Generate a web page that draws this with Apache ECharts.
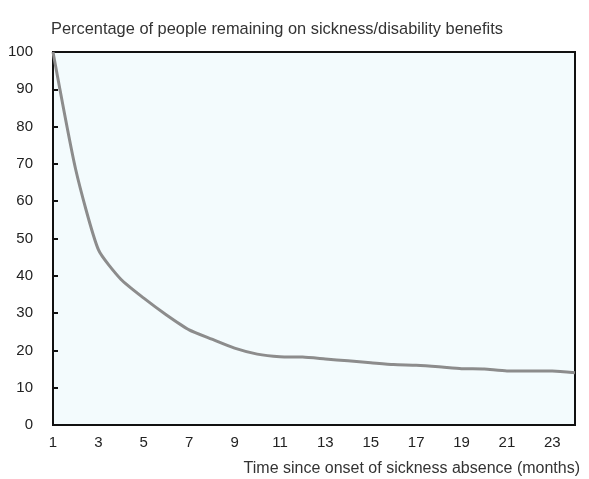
<!DOCTYPE html>
<html>
<head>
<meta charset="utf-8">
<script src="https://cdn.jsdelivr.net/npm/echarts@6/dist/echarts.min.js"></script>
<style>
    html, body { margin: 0; padding: 0; background: #fff; }
    #chart { width: 589px; height: 479px; }
</style>
</head>
<body>
<div id="chart"></div>
<script>
// 月份（1-24）
const months = ['1','2','3','4','5','6','7','8','9','10','11','12','13','14','15','16','17','18','19','20','21','22','23','24'];
// 仍在领取疾病/残疾福利的比例
const remaining = [100, 68.5, 47, 39, 34, 29.5, 25.5, 23, 20.6, 19, 18.3, 18.2, 17.7, 17.2, 16.7, 16.2, 16, 15.6, 15.1, 15, 14.5, 14.5, 14.5, 14];
const yTicks = [0, 10, 20, 30, 40, 50, 60, 70, 80, 90, 100];

const chart = echarts.init(document.getElementById('chart'));
const option = {
    backgroundColor: '#fff',
    title: [
        {
            text: 'Percentage of people remaining on sickness/disability benefits',
            left: 46,
            top: 16,
            textStyle: { fontFamily: 'Liberation Sans', fontSize: 16.4, fontWeight: 'normal', color: '#333' }
        },
        {
            text: 'Time since onset of sickness absence (months)',
            right: 4,
            top: 456,
            textStyle: { fontFamily: 'Liberation Sans', fontSize: 16, fontWeight: 'normal', color: '#333' }
        }
    ],
    grid: {
        left: 53, right: 14, top: 52, bottom: 54,
        show: true,
        backgroundColor: '#f3fbfd',
        borderColor: '#111',
        borderWidth: 2
    },
    xAxis: {
        type: 'category',
        data: months,
        boundaryGap: false,
        axisLine: { show: true, lineStyle: { color: '#111', width: 2 } },
        axisTick: { show: false },
        axisLabel: {
            interval: 1,
            margin: 10,
            fontFamily: 'Liberation Sans',
            fontSize: 15,
            color: '#222'
        },
        splitLine: { show: false }
    },
    yAxis: {
        type: 'value',
        min: yTicks[0],
        max: yTicks[yTicks.length - 1],
        interval: 10,
        axisLine: { show: true, lineStyle: { color: '#111', width: 2 } },
        axisTick: { show: true, inside: true, length: 5, lineStyle: { color: '#111', width: 2 } },
        axisLabel: {
            margin: 20,
            fontFamily: 'Liberation Sans',
            fontSize: 15,
            color: '#222'
        },
        splitLine: { show: false }
    },
    series: [
        {
            type: 'line',
            data: remaining,
            symbol: 'none',
            smooth: 0.2,
            lineStyle: { color: '#8c8c8c', width: 3 }
        }
    ]
};
chart.setOption(option);
</script>
</body>
</html>
